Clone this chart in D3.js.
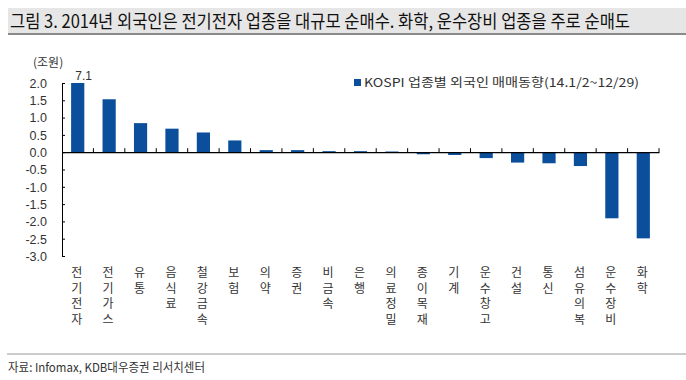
<!DOCTYPE html>
<html><head><meta charset="utf-8">
<script src="https://cdn.jsdelivr.net/npm/d3@7"></script>
<style>
html,body{margin:0;padding:0;background:#fff;}
svg{display:block;font-family:"Noto Sans CJK KR","Noto Sans",sans-serif;}
</style></head>
<body>
<svg id="chart" width="686" height="380"></svg>
<script>
const title = "그림 3. 2014년 외국인은 전기전자 업종을 대규모 순매수. 화학, 운수장비 업종을 주로 순매도";
const unitLabel = "(조원)";
const legendLabel = "KOSPI 업종별 외국인 매매동향(14.1/2~12/29)";
const sourceLabel = "자료: Infomax, KDB대우증권 리서치센터";
const categories = ["전기전자","전기가스","유통","음식료","철강금속","보험","의약","증권","비금속","은행","의료정밀","종이목재","기계","운수창고","건설","통신","섬유의복","운수장비","화학"];
const values = [7.1,1.53,0.84,0.68,0.57,0.34,0.06,0.06,0.03,0.03,0.02,-0.06,-0.08,-0.17,-0.30,-0.32,-0.40,-1.91,-2.49];
const yTicks = [2.0,1.5,1.0,0.5,0.0,-0.5,-1.0,-1.5,-2.0,-2.5,-3.0];

const svg = d3.select("#chart");
const barColor = "#0b4f9c";
const textColor = "#333";

// Title bar
svg.append("rect").attr("x",8).attr("y",8).attr("width",678).attr("height",26).attr("fill","#e6e6e6");
svg.append("line").attr("x1",8).attr("x2",686).attr("y1",34).attr("y2",34).attr("stroke","#8a8a8a").attr("stroke-width",2);
svg.append("text").attr("x",10).attr("y",28).attr("font-size",18).attr("fill","#111")
  .attr("textLength",620).attr("lengthAdjust","spacingAndGlyphs").text(title);

// Scales
const x = d3.scaleBand().domain(categories).range([62,659]).paddingInner(0.58).paddingOuter(0.29);
const y = d3.scaleLinear().domain([-3,2]).range([256,83]).clamp(true);

// Y axis
const yAxis = d3.axisLeft(y).tickValues(yTicks).tickSize(-3).tickPadding(15).tickFormat(d=>d.toFixed(1));
const gy = svg.append("g").attr("transform","translate(62,0)").call(yAxis);
gy.select(".domain").attr("stroke","#000");
gy.selectAll(".tick line").attr("stroke","#000");
gy.selectAll(".tick text").attr("font-size",12.5).attr("fill",textColor)
  .attr("font-family","'Liberation Sans',Arial,sans-serif").attr("dy","0.35em");

// unit
svg.append("text").attr("x",33).attr("y",67).attr("font-size",12).attr("fill",textColor).text(unitLabel);

// Bars
svg.append("g").selectAll("rect").data(categories).join("rect")
  .attr("x",d=>x(d)).attr("width",x.bandwidth())
  .attr("y",(d,i)=>Math.min(y(values[i]),y(0)))
  .attr("height",(d,i)=>Math.abs(y(values[i])-y(0)))
  .attr("fill",barColor);

// Clipped value label for first bar
svg.append("text").attr("x",x(categories[0])+x.bandwidth()/2+6).attr("y",y(values[0])-3)
  .attr("text-anchor","middle").attr("font-size",12).attr("fill",textColor)
  .attr("font-family","'Liberation Sans',Arial,sans-serif").text(values[0].toFixed(1));

// X axis line at zero
const xAxis = d3.axisBottom(x).tickSize(0).tickFormat("");
const gx = svg.append("g").attr("transform",`translate(0,${y(0)})`).call(xAxis);
gx.select(".domain").attr("stroke","#000").attr("stroke-width",1.3);
// boundary ticks
const step = x.step();
const bounds = d3.range(categories.length+1).map(i=>x.range()[0]+i*step);
svg.append("g").selectAll("line").data(bounds.slice(1)).join("line")
  .attr("x1",d=>d).attr("x2",d=>d).attr("y1",y(0)).attr("y2",y(0)-4).attr("stroke","#000");

// Category labels (vertical)
const lab = svg.append("g").selectAll("text").data(categories).join("text")
  .attr("font-size",12).attr("fill",textColor).attr("text-anchor","middle");
lab.each(function(d){
  const t = d3.select(this);
  const cx = x(d)+x.bandwidth()/2 - 1;
  Array.from(d).forEach((ch,j)=>{
    t.append("tspan").attr("x",cx).attr("y",277+j*15.5).text(ch);
  });
});

// Legend
svg.append("rect").attr("x",354).attr("y",79).attr("width",7).attr("height",7).attr("fill",barColor);
svg.append("text").attr("x",364).attr("y",87).attr("font-size",12).attr("fill",textColor)
  .attr("textLength",275).attr("lengthAdjust","spacingAndGlyphs").text(legendLabel);

// Footer
svg.append("line").attr("x1",7).attr("x2",686).attr("y1",354).attr("y2",354).attr("stroke","#999").attr("stroke-width",1);
svg.append("text").attr("x",8).attr("y",372).attr("font-size",12).attr("fill",textColor)
  .attr("textLength",197).attr("lengthAdjust","spacingAndGlyphs").text(sourceLabel);
</script>
</body></html>
